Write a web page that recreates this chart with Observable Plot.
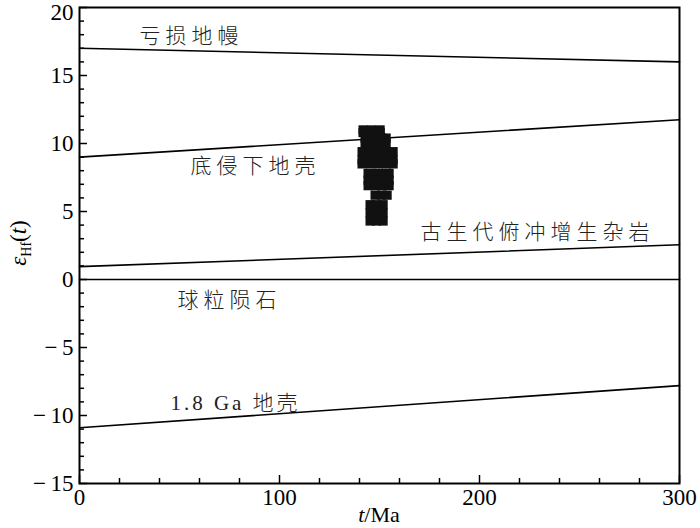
<!DOCTYPE html>
<html>
<head>
<meta charset="utf-8">
<script src="https://cdn.jsdelivr.net/npm/d3@7"></script>
<script src="https://cdn.jsdelivr.net/npm/@observablehq/plot@0.6"></script>
<style>
  body { margin: 0; background: #fff; }
</style>
</head>
<body>
<div id="chart"></div>
<script>
// Reference evolution lines (t in Ma, εHf(t))
const refAges = [0, 300];
const depletedMantle = [17.0, 16.0];
const underplatedCrust = [9.0, 11.75];
const paleozoicAccretion = [0.95, 2.55];
const chondrite = [0, 0];
const crust18Ga = [-10.9, -7.8];

// Zircon data (t in Ma, εHf(t))
const sampleAges = [
  141.8, 146.0, 150.3, 141.8, 146.0, 150.3,
  142.8, 147.0, 151.0, 153.3, 142.8, 147.0, 151.0, 153.3,
  141.3, 145.5, 149.5, 153.5, 156.8, 141.3, 145.5, 149.5, 153.5, 156.8, 141.3, 145.5, 149.5, 153.5, 156.8,
  144.3, 148.0, 151.5, 154.8, 144.3, 148.0, 151.5, 154.8, 144.3, 148.0, 151.5, 154.8,
  147.8, 151.0, 153.8,
  145.3, 148.5, 151.8, 145.3, 148.5, 151.8, 145.3, 148.5, 151.8
];
const sampleEps = [
  11.0, 11.0, 11.0, 10.8, 10.8, 10.8,
  10.4, 10.4, 10.4, 10.4, 10.0, 10.0, 10.0, 10.0,
  9.4, 9.4, 9.4, 9.4, 9.4, 8.8, 8.8, 8.8, 8.8, 8.8, 8.5, 8.5, 8.5, 8.5, 8.5,
  7.8, 7.8, 7.8, 7.8, 7.3, 7.3, 7.3, 7.3, 6.9, 6.9, 6.9, 6.9,
  6.2, 6.2, 6.2,
  5.5, 5.5, 5.5, 4.9, 4.9, 4.9, 4.3, 4.3, 4.3
];

// Line labels
const labelText = ["亏损地幔", "底侵下地壳", "古生代俯冲增生杂岩", "球粒陨石", "1.8 Ga 地壳"];
const labelAge = [56, 88, 229, 75, 78];
const labelEps = [17.9, 8.3, 3.45, -1.55, -9.1];

// Ticks
const xMajor = [0, 100, 200, 300];
const xMinor = d3.range(0, 301, 20).filter(d => d % 100 !== 0);
const yMajor = [-15, -10, -5, 0, 5, 10, 15, 20];
const yMinor = d3.range(-15, 21, 1).filter(d => d % 5 !== 0);

const series = [
  ["depleted", depletedMantle],
  ["underplated", underplatedCrust],
  ["paleozoic", paleozoicAccretion],
  ["chondrite", chondrite],
  ["crust18", crust18Ga]
];
const lineData = series.flatMap(([name, vals]) =>
  refAges.map((t, i) => ({name, t, e: vals[i]})));
const points = sampleAges.map((t, i) => ({t, e: sampleEps[i]}));
const labels = labelText.map((s, i) => ({s, t: labelAge[i], e: labelEps[i]}));

const W = 700, H = 528, mL = 79, mR = 21, mT = 7, mB = 45;
const innerW = W - mL - mR, innerH = H - mT - mB;
const serif = "'Liberation Serif', 'Times New Roman', serif";
const yFmt = d => d < 0 ? "\u2212\u2009" + (-d) : String(d);

const chart = Plot.plot({
  width: W,
  height: H,
  marginLeft: mL,
  marginRight: mR,
  marginTop: mT,
  marginBottom: mB,
  style: {fontFamily: serif, background: "#fff", color: "#000", overflow: "visible"},
  x: {domain: [0, 300]},
  y: {domain: [-15, 20]},
  marks: [
    Plot.line(lineData, {x: "t", y: "e", z: "name", stroke: "#000", strokeWidth: 1.6}),
    Plot.dot(points, {x: "t", y: "e", symbol: "square", r: 5.2, fill: "#111", stroke: "none"}),
    Plot.text(labels, {
      x: "t", y: "e", text: "s",
      fontSize: 21,
      fontWeight: 300,
      fontFamily: "'Liberation Serif', 'Noto Sans CJK SC', serif",
      fill: "#222"
    }),
    // inward ticks
    Plot.tickY(yMajor, {y: d => d, insetRight: innerW - 8, stroke: "#000", strokeWidth: 1.5}),
    Plot.tickY(yMinor, {y: d => d, insetRight: innerW - 5, stroke: "#000", strokeWidth: 1.5}),
    Plot.tickX(xMajor, {x: d => d, insetTop: innerH - 8, stroke: "#000", strokeWidth: 1.5}),
    Plot.tickX(xMinor, {x: d => d, insetTop: innerH - 5, stroke: "#000", strokeWidth: 1.5}),
    Plot.axisY(yMajor.filter(d => d < 20), {
      tickSize: 0, tickPadding: 6, fontSize: 23, label: null, tickFormat: yFmt
    }),
    Plot.axisY(yMajor.filter(d => d >= 20), {
      tickSize: 0, tickPadding: 6, fontSize: 23, label: null, tickFormat: yFmt, dy: 5
    }),
    Plot.axisX(xMajor, {tickSize: 0, tickPadding: 5, fontSize: 23, label: null}),
    Plot.frame({stroke: "#000", strokeWidth: 2})
  ]
});

document.getElementById("chart").appendChild(chart);

const svg = d3.select(chart);
// widen the spacing of the in-plot labels as in the reference
svg.selectAll("text")
  .filter(function () { return /[\u4e00-\u9fff]/.test(this.textContent); })
  .attr("letter-spacing", function () {
    return /[0-9A-Za-z]/.test(this.textContent) ? 3 : 5;
  });

// Axis titles with italic / subscript parts
const xt = svg.append("text")
  .attr("x", mL + innerW / 2).attr("y", H - 6)
  .attr("text-anchor", "middle")
  .attr("font-family", serif).attr("font-size", 22).attr("fill", "#000");
xt.append("tspan").attr("font-style", "italic").text("t");
xt.append("tspan").text("/Ma");

const yt = svg.append("text")
  .attr("transform", `translate(26,243) rotate(-90)`)
  .attr("text-anchor", "middle")
  .attr("font-family", serif).attr("font-size", 23).attr("fill", "#000");
yt.append("tspan").attr("font-style", "italic").text("ε");
yt.append("tspan").attr("font-size", 14).attr("dy", 5).text("Hf");
yt.append("tspan").attr("dy", -5).text("(");
yt.append("tspan").attr("font-style", "italic").text("t");
yt.append("tspan").text(")");
</script>
</body>
</html>
